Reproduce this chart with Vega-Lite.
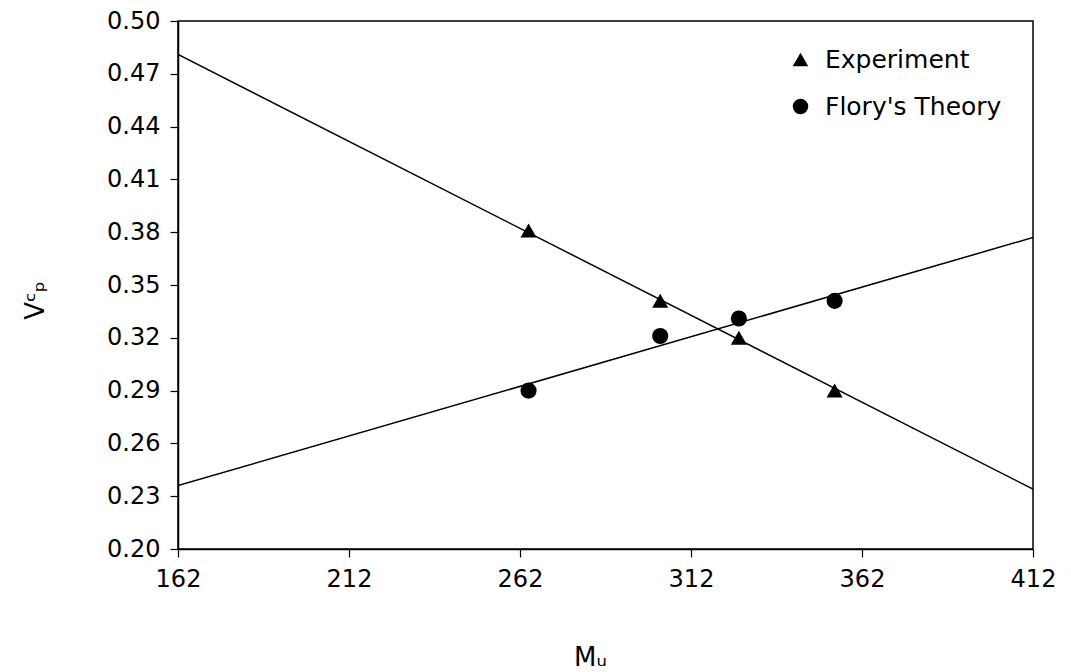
{
  "$schema": "https://vega.github.io/schema/vega-lite/v6.json",
  "width": 855,
  "height": 528,
  "autosize": {"type": "none"},
  "padding": {"left": 178, "top": 21, "right": 38, "bottom": 123},
  "background": "white",
  "config": {
    "font": "DejaVu Sans",
    "view": {"stroke": "black", "strokeWidth": 1.5},
    "axis": {
      "domainColor": "black",
      "domainWidth": 1.5,
      "tickColor": "black",
      "tickWidth": 1.2,
      "tickSize": 8,
      "grid": false,
      "labelFontSize": 24,
      "labelColor": "black",
      "labelFont": "DejaVu Sans",
      "labelFlush": false,
      "labelOverlap": false,
      "titleFont": "DejaVu Sans",
      "titleFontSize": 26,
      "titleFontWeight": "normal",
      "titleColor": "black"
    }
  },
  "datasets": {
    "points": [
      {"series": "Experiment", "Mu": 264.5, "Vp": 0.381},
      {"series": "Experiment", "Mu": 303, "Vp": 0.341},
      {"series": "Experiment", "Mu": 326, "Vp": 0.320},
      {"series": "Experiment", "Mu": 354, "Vp": 0.290},
      {"series": "Flory's Theory", "Mu": 264.5, "Vp": 0.290},
      {"series": "Flory's Theory", "Mu": 303, "Vp": 0.321},
      {"series": "Flory's Theory", "Mu": 326, "Vp": 0.331},
      {"series": "Flory's Theory", "Mu": 354, "Vp": 0.341}
    ],
    "fits": [
      {"fit": "Experiment", "Mu": 162, "Vp": 0.481},
      {"fit": "Experiment", "Mu": 412, "Vp": 0.234},
      {"fit": "Flory's Theory", "Mu": 162, "Vp": 0.236},
      {"fit": "Flory's Theory", "Mu": 412, "Vp": 0.377}
    ]
  },
  "layer": [
    {
      "data": {"name": "fits"},
      "mark": {"type": "line", "color": "black", "strokeWidth": 1.5, "clip": true},
      "encoding": {
        "x": {"field": "Mu", "type": "quantitative", "scale": {"domain": [162, 412], "nice": false, "zero": false},
              "axis": {"values": [162, 212, 262, 312, 362, 412], "title": "Mᵤ", "labelPadding": 10, "titleX": 412, "titleY": 108, "titleBaseline": "middle"}},
        "y": {"field": "Vp", "type": "quantitative", "scale": {"domain": [0.2, 0.5], "nice": false, "zero": false},
              "axis": {"values": [0.2, 0.23, 0.26, 0.29, 0.32, 0.35, 0.38, 0.41, 0.44, 0.47, 0.5], "format": ".2f", "title": "Vᶜₚ", "labelPadding": 10, "titleX": -143, "titleY": 279, "titleBaseline": "middle", "titleAlign": "center"}},
        "detail": {"field": "fit"}
      }
    },
    {
      "data": {"name": "points"},
      "mark": {"type": "point", "filled": true, "color": "black", "opacity": 1, "size": 260},
      "encoding": {
        "x": {"field": "Mu", "type": "quantitative", "scale": {"domain": [162, 412], "nice": false, "zero": false},
              "axis": {"values": [162, 212, 262, 312, 362, 412], "title": "Mᵤ", "labelPadding": 10, "titleX": 412, "titleY": 108, "titleBaseline": "middle"}},
        "y": {"field": "Vp", "type": "quantitative", "scale": {"domain": [0.2, 0.5], "nice": false, "zero": false},
              "axis": {"values": [0.2, 0.23, 0.26, 0.29, 0.32, 0.35, 0.38, 0.41, 0.44, 0.47, 0.5], "format": ".2f", "title": "Vᶜₚ", "labelPadding": 10, "titleX": -143, "titleY": 279, "titleBaseline": "middle", "titleAlign": "center"}},
        "shape": {
          "field": "series", "type": "nominal",
          "scale": {"domain": ["Experiment", "Flory's Theory"], "range": ["triangle-up", "circle"]},
          "legend": {
            "title": null,
            "orient": "none",
            "legendX": 610,
            "legendY": 26,
            "labelFontSize": 25,
            "labelLimit": 400,
            "labelColor": "black",
            "labelFont": "DejaVu Sans",
            "symbolSize": 240,
            "symbolFillColor": "black",
            "symbolStrokeColor": "black",
            "symbolOpacity": 1,
            "rowPadding": 21,
            "labelOffset": 12
          }
        }
      }
    }
  ]
}
